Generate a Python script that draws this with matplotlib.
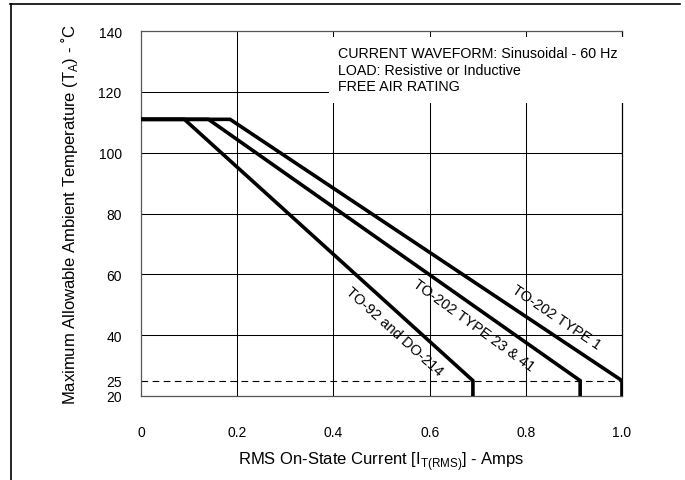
import numpy as np
import matplotlib.pyplot as plt
from matplotlib.lines import Line2D

plt.rcParams['font.family'] = ['Liberation Sans', 'DejaVu Sans']

# Curvas de derating (corriente RMS en A, temperatura en °C)
to92_x = [0.0, 0.09, 0.69, 0.69]
to92_y = [111, 111, 25, 20]
t23_x = [0.0, 0.14, 0.913, 0.913]
t23_y = [111, 111, 25, 20]
t1_x = [0.0, 0.185, 1.0, 1.0]
t1_y = [111, 111, 25, 20]

etiquetas = ['TO-92 and DO-214', 'TO-202 TYPE 23 & 41', 'TO-202 TYPE 1']
xticks = [0, 0.2, 0.4, 0.6, 0.8, 1.0]
xtick_labels = ['0', '0.2', '0.4', '0.6', '0.8', '1.0']
yticks = [20, 25, 40, 60, 80, 100, 120, 140]

fig = plt.figure(figsize=(6.85, 4.81), dpi=100)
ax = fig.add_axes([0.206, 0.175, 0.702, 0.758])

# rejilla
for xv in [0.2, 0.4, 0.6, 0.8]:
    ax.axvline(xv, color='black', lw=0.75, zorder=1)
for yv in [40, 60, 80, 100, 120]:
    ax.axhline(yv, color='black', lw=0.75, zorder=1)
ax.axhline(25, color='black', lw=0.8, ls=(0, (6, 4)), zorder=1)

for xs, ys in [(to92_x, to92_y), (t23_x, t23_y), (t1_x, t1_y)]:
    ax.plot(xs, ys, color='black', lw=2.6, solid_joinstyle='miter', zorder=3)

ax.set_xlim(0, 1.0)
ax.set_ylim(20, 140)
ax.set_xticks(xticks)
ax.set_xticklabels(xtick_labels)
ax.set_yticks(yticks)
ax.tick_params(length=0, labelsize=10, colors='black')
ax.tick_params(axis='x', pad=21)
ax.tick_params(axis='y', pad=14)
for s in ax.spines.values():
    s.set_color('#555555')
    s.set_linewidth(0.9)
ax.spines['right'].set_color('black')

ax.set_xlabel('RMS On-State Current [I$_\\mathregular{T(RMS)}$] - Amps', fontsize=12, labelpad=7)
ax.set_ylabel('Maximum Allowable Ambient Temperature (T$_\\mathregular{A}$) - \u02daC', fontsize=12, labelpad=13)

ax.text(0.41, 135, 'CURRENT WAVEFORM: Sinusoidal - 60 Hz\nLOAD: Resistive or Inductive\nFREE AIR RATING',
        fontsize=10.3, va='top', ha='left', linespacing=1.2, zorder=4,
        bbox=dict(facecolor='white', edgecolor='none', pad=7))

ax.text(0.527, 41.5, etiquetas[0], rotation=-42, fontsize=10.5, ha='center', va='center', rotation_mode='anchor')
ax.text(0.692, 43.5, etiquetas[1], rotation=-36, fontsize=10.5, ha='center', va='center', rotation_mode='anchor')
ax.text(0.864, 46, etiquetas[2], rotation=-34, fontsize=10.5, ha='center', va='center', rotation_mode='anchor')

# marco de la figura
fig.add_artist(Line2D([0.015, 0.993], [0.99, 0.99], color='black', lw=1.2, transform=fig.transFigure))
fig.add_artist(Line2D([0.016, 0.016], [0.0, 0.99], color='black', lw=1.2, transform=fig.transFigure))

plt.savefig('out.png', dpi=100)
